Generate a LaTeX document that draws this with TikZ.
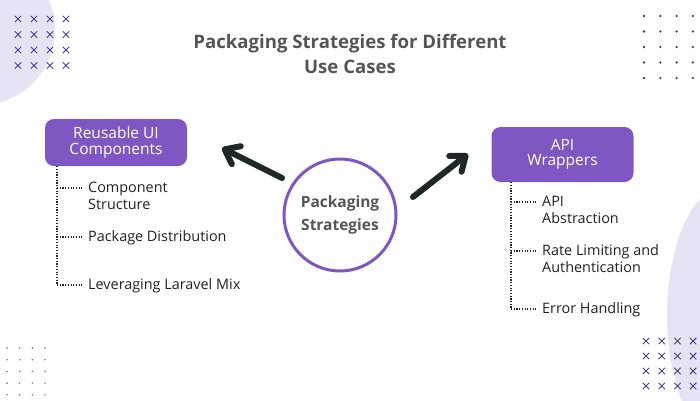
\documentclass[tikz,border=0pt]{standalone}
\usepackage{fontspec}
\setmainfont{Open Sans}
\usetikzlibrary{arrows.meta,calc}
\definecolor{boxpurple}{HTML}{7E57C2}
\definecolor{blob}{HTML}{E7E3F4}
\definecolor{crosscol}{HTML}{4A3F8C}
\definecolor{dotcol}{HTML}{3F3D6E}
\definecolor{titlegray}{HTML}{555555}
\definecolor{arrowcol}{HTML}{1E2828}
\tikzset{>/.tip={Straight Barb[length=13pt, width=20pt, round]}}
\newcommand{\xmark}[1]{\draw[crosscol, line width=0.9pt] ($#1+(-3.2,-3.2)$) -- ($#1+(3.2,3.2)$) ($#1+(-3.2,3.2)$) -- ($#1+(3.2,-3.2)$);}

\begin{document}
\begin{tikzpicture}[x=1pt, y=-1pt,
  topic/.style={fill=boxpurple, rounded corners=9pt, text=white, align=center,
    minimum width=142pt, font=\fontsize{15.5}{15.5}\selectfont},
  item/.style={anchor=north west, inner sep=0pt, align=left, text=black!87,
    font=\fontsize{14.4}{17}\selectfont},
  branch/.style={dash pattern=on 1.2pt off 1.5pt, line width=1.3pt, black!85},
  arw/.style={->, arrowcol, line width=6pt, line cap=round}]
\useasboundingbox (0,0) rectangle (700,400);
\fill[blob] (-20,30) circle (75);
\fill[blob] (727,315) ellipse (60 and 130);

\foreach \i in {0,...,3} \foreach \j in {0,...,3} {
  \xmark{(18+16*\i,19+15.5*\j)}
  \xmark{(646+15.7*\i,341+15*\j)}
}
\foreach \i in {0,...,3} \foreach \j in {0,...,4} {
  \fill[dotcol] (644+16.3*\i,16+15.5*\j) circle (1.3);
  \fill[dotcol!70] (7+12.7*\i,348+11.7*\j) circle (0.9);
}

\node[text=titlegray, align=center, font=\fontsize{18.6}{25}\selectfont\bfseries] (title) at (350,54) {Packaging Strategies for Different\\Use Cases};

\node[draw=boxpurple, line width=3pt, circle, minimum size=112pt, text=titlegray, align=center,
  font=\fontsize{15.5}{23}\selectfont\bfseries] (core) at (340,215) {Packaging\\Strategies};

\node[topic, minimum height=47pt] (ui) at (116,142.5) {Reusable UI\\Components};
\node[topic, minimum height=55pt] (api) at (562.5,154.5) {API\\Wrappers};

\coordinate (uitail) at (282,178);
\coordinate (uitip) at (222,148);
\coordinate (apitail) at (413,197);
\coordinate (apitip) at (468,154);
\draw[arw] (uitail) to (uitip);
\draw[arw] (apitail) to (apitip);

\node[item] (cs) at (88,181.5) {Component\\Structure};
\node[item] (pd) at (88,230.5) {Package Distribution};
\node[item] (llm) at (88,278.5) {Leveraging Laravel Mix};
\coordinate (uiend) at (57,285);
\draw[branch] (ui.south -| uiend) to (uiend);
\draw[branch] (57,188) to ([xshift=-6pt]cs.west |- 0,188);
\draw[branch] (57,237) to ([xshift=-6pt]pd.west |- 0,237);
\draw[branch] (uiend) to ([xshift=-6pt]llm.west |- uiend);

\node[item] (aa) at (542,195.5) {API\\Abstraction};
\node[item] (rl) at (542,244.5) {Rate Limiting and\\Authentication};
\node[item] (eh) at (542,302.5) {Error Handling};
\coordinate (apiend) at (511,309);
\draw[branch] (api.south -| apiend) to (apiend);
\draw[branch] (511,202) to ([xshift=-6pt]aa.west |- 0,202);
\draw[branch] (511,251) to ([xshift=-6pt]rl.west |- 0,251);
\draw[branch] (apiend) to ([xshift=-6pt]eh.west |- apiend);
\end{tikzpicture}
\end{document}
